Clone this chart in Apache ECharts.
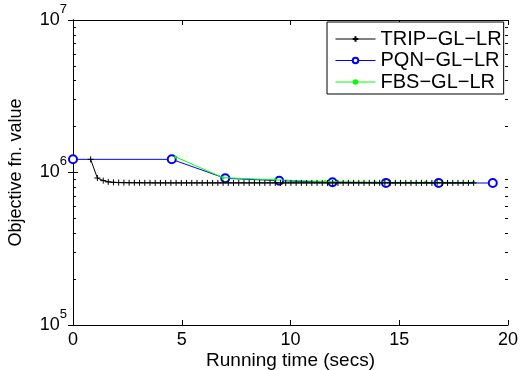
<!DOCTYPE html>
<html><head><meta charset="utf-8">
<script src="https://cdn.jsdelivr.net/npm/echarts@6/dist/echarts.min.js"></script>
<style>html,body{margin:0;padding:0;background:#fff}#c{width:523px;height:370px}</style>
</head><body><div id="c"></div><script>
var seriesNames = ['TRIP\u2212GL\u2212LR', 'PQN\u2212GL\u2212LR', 'FBS\u2212GL\u2212LR'];
var xTitle = 'Running time (secs)';
var yTitle = 'Objective fn. value';

var timesTRIP = [0.81, 1.12, 1.39, 1.62,
  1.86, 2.10, 2.34, 2.58, 2.82, 3.06, 3.30, 3.54, 3.78, 4.02,
  4.26, 4.50, 4.74, 4.98, 5.22, 5.46, 5.70, 5.94, 6.18, 6.42,
  6.66, 6.90, 7.14, 7.38, 7.62, 7.86, 8.10, 8.34, 8.58, 8.82,
  9.06, 9.30, 9.54, 9.78, 10.02, 10.26, 10.50, 10.74, 10.98, 11.22,
  11.46, 11.70, 11.94, 12.18, 12.42, 12.66, 12.90, 13.14, 13.38, 13.62,
  13.86, 14.10, 14.34, 14.58, 14.82, 15.06, 15.30, 15.54, 15.78, 16.02,
  16.26, 16.50, 16.74, 16.98, 17.22, 17.46, 17.70, 17.94, 18.18, 18.42];
var valuesTRIP = [1220000, 920000, 885000, 868000,
  862000, 859000, 858000, 857000, 857000, 856000, 856000, 856000, 855000, 855000,
  855000, 855000, 855000, 855000, 855000, 855000, 855000, 855000, 855000, 855000,
  855000, 855000, 855000, 855000, 855000, 855000, 855000, 855000, 855000, 855000,
  855000, 855000, 855000, 855000, 855000, 855000, 855000, 855000, 855000, 855000,
  855000, 855000, 855000, 855000, 855000, 855000, 855000, 855000, 855000, 855000,
  855000, 855000, 855000, 855000, 855000, 855000, 855000, 855000, 855000, 855000,
  855000, 855000, 855000, 855000, 855000, 855000, 855000, 855000, 855000, 855000];

var timesPQN = [0, 4.54, 7.0, 9.48, 11.93, 14.39, 16.81, 19.3];
var valuesPQN = [1220000, 1220000, 916000, 884000, 862000, 855000, 854000, 853000];

var timesFBS = [4.72, 6.9, 9.3, 11.6, 13.9, 16.2, 18.42];
var valuesFBS = [1265000, 925000, 895000, 872000, 863000, 862000, 862000];

var xTicks = [0, 5, 10, 15, 20];
var yMajor = [1e5, 1e6, 1e7];

function pairs(xs, ys) { return xs.map(function (x, i) { return [x, ys[i]]; }); }

var FONT = 'Liberation Sans, Arial, Helvetica, sans-serif';
var minorPos = [];
[5, 6].forEach(function (d) { [2,3,4,5,6,7,8,9].forEach(function (m) { minorPos.push(d + Math.log10(m)); }); });

var chart = echarts.init(document.getElementById('c'), null, {renderer: 'canvas'});
var tickCommon = {inside: true, length: 5, lineStyle: {color: '#000', width: 1}};
var lineCommon = {show: true, lineStyle: {color: '#000', width: 1}};
var gridRect = {left: 73, right: 15, top: 20, bottom: 45, containLabel: false, outerBoundsMode: 'none'};
function minorAxis(pos) {
  return {
    type: 'value', gridIndex: 1, position: pos, min: 5, max: 7, interval: 1,
    axisLine: {show: false}, axisLabel: {show: false}, splitLine: {show: false},
    axisTick: {show: true, inside: true, length: 3, customValues: minorPos, lineStyle: {color: '#000', width: 1}}
  };
}
chart.setOption({
  animation: false,
  backgroundColor: '#fff',
  grid: [Object.assign({}, gridRect), Object.assign({}, gridRect)],
  legend: {
    show: true, orient: 'vertical', left: 327, top: 22,
    data: seriesNames,
    backgroundColor: '#fff', borderColor: '#000', borderWidth: 1,
    padding: [7, 2, 2, 8], itemGap: 1.5, itemWidth: 40, itemHeight: 7,
    lineStyle: {width: 1},
    textStyle: {fontFamily: FONT, fontSize: 20, color: '#000'}
  },
  xAxis: [{
    type: 'value', gridIndex: 0, position: 'bottom', min: 0, max: 20, interval: 5,
    axisLine: lineCommon, axisTick: tickCommon, splitLine: {show: false},
    axisLabel: {color: '#000', fontFamily: FONT, fontSize: 18, margin: 6,
      formatter: function (v) { return xTicks.indexOf(v) >= 0 ? String(v) : ''; }},
    name: xTitle, nameLocation: 'middle', nameGap: 26, nameMoveOverlap: false,
    nameTextStyle: {color: '#000', fontFamily: FONT, fontSize: 19}
  }, {
    type: 'value', gridIndex: 0, position: 'top', min: 0, max: 20, interval: 5,
    axisLine: lineCommon, axisTick: tickCommon, axisLabel: {show: false}, splitLine: {show: false}
  }, {
    type: 'value', gridIndex: 1, position: 'bottom', min: 0, max: 20, show: false
  }],
  yAxis: [{
    type: 'log', logBase: 10, gridIndex: 0, position: 'left', min: 1e5, max: 1e7,
    axisLine: lineCommon, axisTick: tickCommon, splitLine: {show: false}, minorTick: {show: false},
    axisLabel: {
      margin: 6,
      formatter: function (v) {
        var e = Math.round(Math.log10(v));
        if (yMajor.indexOf(Math.pow(10, e)) < 0) return '';
        return '{n|10}{s|' + e + '}';
      },
      rich: {
        n: {fontFamily: FONT, fontSize: 18, color: '#000', verticalAlign: 'middle'},
        s: {fontFamily: FONT, fontSize: 13, color: '#000', verticalAlign: 'middle', padding: [0, 0, 22, 0]}
      }
    },
    name: yTitle, nameLocation: 'middle', nameGap: 48, nameMoveOverlap: false,
    nameTextStyle: {color: '#000', fontFamily: FONT, fontSize: 18}
  }, {
    type: 'log', logBase: 10, gridIndex: 0, position: 'right', min: 1e5, max: 1e7,
    axisLine: lineCommon, axisTick: tickCommon, axisLabel: {show: false}, splitLine: {show: false}
  }, minorAxis('left'), minorAxis('right')],
  series: [{
    name: seriesNames[0], type: 'line', data: pairs(timesTRIP, valuesTRIP), z: 4,
    symbol: 'path://M5,0 L5,10 M0,5 L10,5', symbolSize: 6, showAllSymbol: true,
    lineStyle: {color: '#000', width: 1},
    itemStyle: {color: '#000', borderColor: '#000', borderWidth: 1}
  }, {
    name: seriesNames[1], type: 'line', data: pairs(timesPQN, valuesPQN), z: 2,
    symbol: 'emptyCircle', symbolSize: 8, showAllSymbol: true,
    lineStyle: {color: '#0000ff', width: 1},
    itemStyle: {color: '#0000ff', borderColor: '#0000ff', borderWidth: 1}
  }, {
    name: seriesNames[2], type: 'line', data: pairs(timesFBS, valuesFBS), z: 3,
    symbol: 'circle', symbolSize: 3, showAllSymbol: true,
    lineStyle: {color: '#00ff00', width: 1},
    itemStyle: {color: '#00ff00'}
  }]
});
</script></body></html>
